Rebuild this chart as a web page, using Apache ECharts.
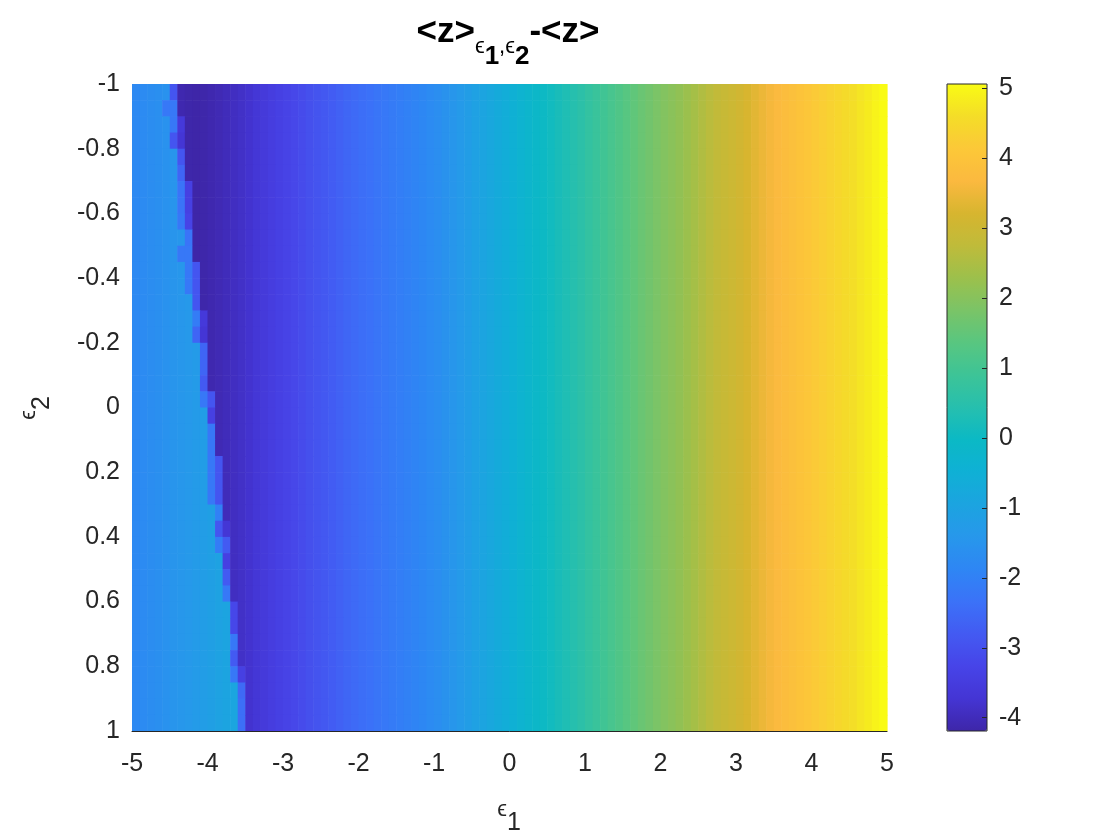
<!DOCTYPE html>
<html>
<head>
<meta charset="utf-8">
<script src="https://cdn.jsdelivr.net/npm/echarts@6/dist/echarts.min.js"></script>
<style>
  html, body { margin: 0; padding: 0; background: #fff; }
  #chart { width: 1120px; height: 840px; }
</style>
</head>
<body>
<div id="chart"></div>
<script>
// tick labels
const eps1Ticks = [-5, -4, -3, -2, -1, 0, 1, 2, 3, 4, 5];
const eps2Ticks = [-1, -0.8, -0.6, -0.4, -0.2, 0, 0.2, 0.4, 0.6, 0.8, 1];
const cbarTicks = [-4, -3, -2, -1, 0, 1, 2, 3, 4, 5];

// colour limits
const zMin = -4.19;
const zMax = 5.06;

// value per eps1 column left of the step (columns 0..14)
const leftVals = [-1.80, -1.75, -1.68, -1.62, -1.55, -1.48, -1.42, -1.36, -1.28, -1.20,
                  -1.12, -1.04, -0.96, -0.90, -0.85];

// value per eps1 column right of the step (columns 0..99)
const rightVals = [null, null, null, null, null,
  -4.00, -4.12, -4.17, -4.19, -4.17, -4.12, -4.06, -4.00, -3.93, -3.86,
  -3.78, -3.68, -3.58, -3.48, -3.39, -3.30, -3.21, -3.12, -3.02, -2.93,
  -2.84, -2.76, -2.67, -2.58, -2.50, -2.42, -2.35, -2.28, -2.21, -2.14,
  -2.07, -2.00, -1.93, -1.84, -1.75, -1.65, -1.54, -1.43, -1.31, -1.19,
  -1.06, -0.95, -0.84, -0.72, -0.60, -0.47, -0.35, -0.24, -0.12, 0.00,
  0.10, 0.21, 0.32, 0.44, 0.56, 0.69, 0.82, 0.95, 1.08, 1.21,
  1.34, 1.47, 1.60, 1.72, 1.83, 1.94, 2.04, 2.14, 2.27, 2.41,
  2.55, 2.68, 2.80, 2.90, 3.00, 3.10, 3.22, 3.35, 3.48, 3.60,
  3.70, 3.80, 3.90, 3.99, 4.08, 4.17, 4.26, 4.35, 4.44, 4.53,
  4.62, 4.72, 4.82, 4.93, 5.06];

// per eps2 row (top to bottom): column of the step and the values of the step cells
const edgeCol = [5, 4, 5, 5, 6, 6, 6, 6, 6, 7, 6, 7, 7, 8, 8, 8, 9, 9, 9, 9,
                 10, 10, 10, 10, 10, 10, 11, 11, 11, 12, 12, 12, 13, 13, 13, 13, 13, 14, 14, 14];
const edgeFirst = [-2.9, -2.2, -2.2, -2.9, -2.9, -2.6, -2.3, -2.3, -2.2, -2.3,
                   -2.2, -2.2, -2.2, -2.9, -2.1, -2.6, -2.6, -2.6, -2.8, -2.2,
                   -3.4, -2.2, -2.2, -2.2, -2.2, -2.2, -2.0, -2.9, -2.1, -3.4,
                   -2.8, -2.2, -3.2, -3.2, -2.2, -2.8, -2.2, -2.5, -2.4, -2.4];
const edgeSecond = [null, -2.2, -3.6, -3.7, null, null, -3.4, -3.4, -3.3, null,
                    -2.2, -2.9, -2.9, null, -3.6, -3.7, null, null, null, -2.9,
                    null, null, null, -2.9, -2.9, -2.9, null, -3.7, -2.8, null,
                    null, null, null, null, null, null, -3.4, null, null, null];

// parula-like colormap, evenly spaced stops (0, 0.05, ..., 1)
const parula = ['#3e26a8', '#4435d4', '#4744e8', '#435af2', '#3b72f8', '#2e86f4', '#2797eb',
                '#1ca4e0', '#0fb0d5', '#0bb9c5', '#26bfae', '#3dc497', '#58c680', '#7ac467',
                '#9cc04c', '#bfbb3a', '#d7b52f', '#fbb93f', '#fcc838', '#f4dd28', '#f9fb14'];

const cells = [];
for (let r = 0; r < edgeCol.length; r++) {
  for (let k = 0; k < rightVals.length; k++) {
    let v;
    if (k < edgeCol[r]) v = leftVals[k];
    else if (k === edgeCol[r]) v = edgeFirst[r];
    else if (k === edgeCol[r] + 1 && edgeSecond[r] !== null) v = edgeSecond[r];
    else v = rightVals[k];
    cells.push([-4.95 + 0.1 * k, -0.975 + 0.05 * r, v]);
  }
}

const font = 'Liberation Sans, Helvetica, Arial, DejaVu Sans, sans-serif';
const ink = '#262626';

const chart = echarts.init(document.getElementById('chart'));

function renderCell(params, api) {
  const x = api.value(0), y = api.value(1);
  const p0 = api.coord([x - 0.05, y - 0.025]);
  const p1 = api.coord([x + 0.05, y + 0.025]);
  return {
    type: 'rect',
    shape: {
      x: Math.min(p0[0], p1[0]),
      y: Math.min(p0[1], p1[1]),
      width: Math.abs(p1[0] - p0[0]) + 0.6,
      height: Math.abs(p1[1] - p0[1]) + 0.6
    },
    style: { fill: api.visual('color') }
  };
}

const option = {
  animation: false,
  backgroundColor: '#fff',
  textStyle: { fontFamily: font },
  grid: [
    { left: 132, top: 84, width: 755, height: 647 },
    // colorbar frame
    { left: 947, top: 84, width: 40, height: 647, show: true, z: 5,
      backgroundColor: 'transparent', borderColor: ink, borderWidth: 1 }
  ],
  xAxis: [
    {
      gridIndex: 0, type: 'value', min: -5, max: 5, interval: 1, z: 3,
      axisLine: { show: true, onZero: false, lineStyle: { color: ink, width: 1 } },
      axisTick: { show: false },
      splitLine: { show: false },
      axisLabel: { color: ink, fontSize: 25, margin: 21, fontFamily: font,
                   customValues: eps1Ticks }
    },
    { gridIndex: 1, type: 'value', min: 0, max: 1, show: false }
  ],
  yAxis: [
    {
      gridIndex: 0, type: 'value', min: -1, max: 1, inverse: true, interval: 0.2,
      axisLine: { show: false, onZero: false },
      axisTick: { show: false },
      splitLine: { show: false },
      axisLabel: { color: ink, fontSize: 25, margin: 12, fontFamily: font,
                   customValues: eps2Ticks }
    },
    {
      gridIndex: 1, type: 'value', min: zMin, max: zMax, position: 'right', z: 6,
      axisLine: { show: false, onZero: false },
      axisTick: { show: true, inside: true, length: 5, customValues: cbarTicks,
                  lineStyle: { color: ink } },
      splitLine: { show: false },
      axisLabel: { color: ink, fontSize: 25, margin: 12, fontFamily: font,
                   customValues: cbarTicks }
    }
  ],
  visualMap: {
    type: 'continuous',
    min: zMin, max: zMax,
    dimension: 2,
    seriesIndex: 0,
    calculable: false,
    hoverLink: false,
    left: 947, top: 84,
    itemWidth: 40, itemHeight: 647,
    padding: 0,
    z: 2,
    text: null,
    inRange: { color: parula }
  },
  series: [{
    type: 'custom',
    xAxisIndex: 0, yAxisIndex: 0,
    clip: true,
    renderItem: renderCell,
    encode: { x: 0, y: 1 },
    data: cells
  }],
  graphic: [
    {
      type: 'text', x: 508, y: 24,
      style: {
        text: '{a|<z>}{e|ϵ}{n|1}{e|,ϵ}{n|2}{a|-<z>}',
        align: 'center', verticalAlign: 'top', fill: '#000',
        rich: {
          a: { fontSize: 35, fontWeight: 'bold', fontFamily: font, lineHeight: 40, padding: [0, 0, 24, 0], fill: '#000' },
          e: { fontSize: 22, fontFamily: font, lineHeight: 26, padding: [22, 0, 16, 0], fill: '#000' },
          n: { fontSize: 26, fontWeight: 'bold', fontFamily: font, lineHeight: 30, padding: [30, 0, 4, 0], fill: '#000' }
        }
      }
    },
    {
      type: 'text', x: 509, y: 803,
      style: {
        text: '{e|ϵ}{n|1}', align: 'center', verticalAlign: 'top', fill: ink,
        rich: {
          e: { fontSize: 22, fontFamily: font, lineHeight: 26, padding: [0, 0, 14, 0], fill: ink },
          n: { fontSize: 25, fontFamily: font, lineHeight: 28, padding: [12, 0, 0, 0], fill: ink }
        }
      }
    },
    {
      type: 'text', x: 36, y: 408, rotation: Math.PI / 2,
      style: {
        text: '{e|ϵ}{n|2}', align: 'center', verticalAlign: 'middle', fill: ink,
        rich: {
          e: { fontSize: 22, fontFamily: font, lineHeight: 26, padding: [0, 0, 14, 0], fill: ink },
          n: { fontSize: 25, fontFamily: font, lineHeight: 28, padding: [12, 0, 0, 0], fill: ink }
        }
      }
    }
  ]
};

chart.setOption(option);
</script>
</body>
</html>
